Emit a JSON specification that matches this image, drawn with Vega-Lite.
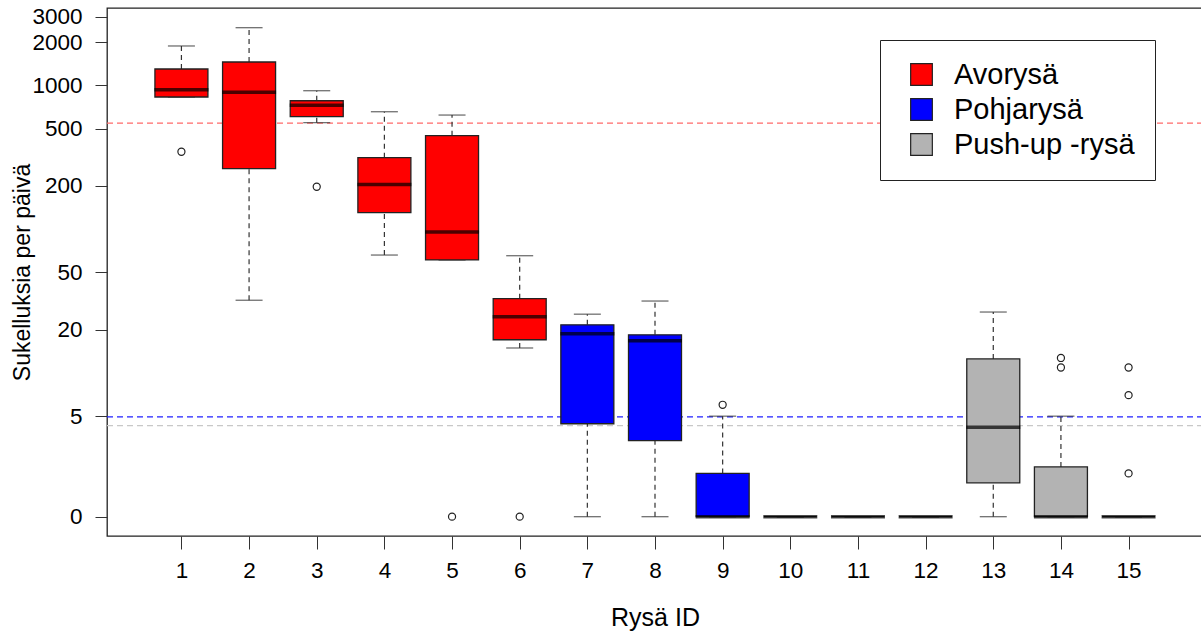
{
  "$schema": "https://vega.github.io/schema/vega-lite/v6.json",
  "autosize": {"type": "none"},
  "padding": {"left": 107, "top": 8, "right": 0, "bottom": 97},
  "width": 1096,
  "height": 528,
  "background": "white",
  "config": {
    "font": "Liberation Sans",
    "view": {"stroke": "#222222", "strokeWidth": 1.3},
    "axis": {"grid": false, "domain": false, "tickColor": "#333333", "labelColor": "#000000", "titleColor": "#000000", "labelFont": "Liberation Sans", "titleFont": "Liberation Sans", "titleFontWeight": "normal", "labelFontSize": 22.5, "titleFontSize": 23}
  },
  "datasets": {
    "boxes": [
      {"rysa": 1, "tyyppi": "Avorysä", "min": 829, "q1": 829, "median": 931, "q3": 1298, "max": 1877},
      {"rysa": 2, "tyyppi": "Avorysä", "min": 32, "q1": 263, "median": 894, "q3": 1452, "max": 2516},
      {"rysa": 3, "tyyppi": "Avorysä", "min": 550, "q1": 605, "median": 726, "q3": 781, "max": 917},
      {"rysa": 4, "tyyppi": "Avorysä", "min": 66, "q1": 130, "median": 204, "q3": 314, "max": 655},
      {"rysa": 5, "tyyppi": "Avorysä", "min": 61, "q1": 61, "median": 95.5, "q3": 446, "max": 621},
      {"rysa": 6, "tyyppi": "Avorysä", "min": 14.9, "q1": 17, "median": 24.6, "q3": 32.8, "max": 65.3},
      {"rysa": 7, "tyyppi": "Pohjarysä", "min": 1, "q1": 4.43, "median": 18.7, "q3": 21.6, "max": 25.6},
      {"rysa": 8, "tyyppi": "Pohjarysä", "min": 1, "q1": 3.38, "median": 16.7, "q3": 18.4, "max": 31.6},
      {"rysa": 9, "tyyppi": "Pohjarysä", "min": 1, "q1": 1, "median": 1, "q3": 2, "max": 5},
      {"rysa": 10, "tyyppi": "Pohjarysä", "min": 1, "q1": 1, "median": 1, "q3": 1, "max": 1},
      {"rysa": 11, "tyyppi": "Pohjarysä", "min": 1, "q1": 1, "median": 1, "q3": 1, "max": 1},
      {"rysa": 12, "tyyppi": "Pohjarysä", "min": 1, "q1": 1, "median": 1, "q3": 1, "max": 1},
      {"rysa": 13, "tyyppi": "Push-up -rysä", "min": 1, "q1": 1.72, "median": 4.19, "q3": 12.5, "max": 26.5},
      {"rysa": 14, "tyyppi": "Push-up -rysä", "min": 1, "q1": 1, "median": 1, "q3": 2.22, "max": 5},
      {"rysa": 15, "tyyppi": "Push-up -rysä", "min": 1, "q1": 1, "median": 1, "q3": 1, "max": 1}
    ],
    "outliers": [
      {"rysa": 1, "arvo": 345},
      {"rysa": 3, "arvo": 197},
      {"rysa": 5, "arvo": 1},
      {"rysa": 6, "arvo": 1},
      {"rysa": 9, "arvo": 6},
      {"rysa": 14, "arvo": 12.7},
      {"rysa": 14, "arvo": 10.9},
      {"rysa": 15, "arvo": 10.9},
      {"rysa": 15, "arvo": 7},
      {"rysa": 15, "arvo": 2}
    ],
    "refs": [
      {"tyyppi": "Avorysä", "taso": 545},
      {"tyyppi": "Pohjarysä", "taso": 4.95},
      {"tyyppi": "Push-up -rysä", "taso": 4.3}
    ]
  },
  "layer": [
    {
      "data": {"name": "refs"},
      "transform": [{"filter": "datum.tyyppi == 'Avorysä'"}],
      "mark": {"type": "rule", "strokeDash": [6, 4], "strokeWidth": 1.3, "color": "#ff6a6a"},
      "encoding": {
        "y": {"field": "taso", "type": "quantitative", "scale": {"type": "log", "domain": [0.734, 3448], "nice": false}}
      }
    },
    {
      "data": {"name": "refs"},
      "transform": [{"filter": "datum.tyyppi == 'Pohjarysä'"}],
      "mark": {"type": "rule", "strokeDash": [6, 4], "strokeWidth": 1.3, "color": "#2020ff"},
      "encoding": {
        "y": {"field": "taso", "type": "quantitative"}
      }
    },
    {
      "data": {"name": "refs"},
      "transform": [{"filter": "datum.tyyppi == 'Push-up -rysä'"}],
      "mark": {"type": "rule", "strokeDash": [6, 4], "strokeWidth": 1.3, "color": "#c8c8c8"},
      "encoding": {
        "y": {"field": "taso", "type": "quantitative"}
      }
    },
    {
      "data": {"name": "boxes"},
      "mark": {"type": "rule", "strokeDash": [5, 4], "color": "#333333", "strokeWidth": 1.2},
      "encoding": {
        "x": {"field": "rysa", "type": "quantitative"},
        "y": {"field": "q3", "type": "quantitative"},
        "y2": {"field": "max"}
      }
    },
    {
      "data": {"name": "boxes"},
      "mark": {"type": "rule", "strokeDash": [5, 4], "color": "#333333", "strokeWidth": 1.2},
      "encoding": {
        "x": {"field": "rysa", "type": "quantitative"},
        "y": {"field": "min", "type": "quantitative"},
        "y2": {"field": "q1"}
      }
    },
    {
      "data": {"name": "boxes"},
      "mark": {"type": "tick", "orient": "horizontal", "size": 27, "thickness": 1.3, "color": "#333333"},
      "encoding": {
        "x": {"field": "rysa", "type": "quantitative"},
        "y": {"field": "max", "type": "quantitative"}
      }
    },
    {
      "data": {"name": "boxes"},
      "mark": {"type": "tick", "orient": "horizontal", "size": 27, "thickness": 1.3, "color": "#333333"},
      "encoding": {
        "x": {"field": "rysa", "type": "quantitative"},
        "y": {"field": "min", "type": "quantitative"}
      }
    },
    {
      "data": {"name": "boxes"},
      "mark": {"type": "bar", "size": 53, "stroke": "#222222", "strokeWidth": 1.3},
      "encoding": {
        "x": {"field": "rysa", "type": "quantitative", "title": "Rysä ID",
              "scale": {"domain": [-0.1, 16.1], "nice": false, "zero": false, "padding": 0},
              "axis": {"values": [1,2,3,4,5,6,7,8,9,10,11,12,13,14,15], "format": "d", "tickSize": 13, "labelPadding": 10, "labelFlush": false, "titleFontSize": 25, "titleY": 89, "titleBaseline": "alphabetic"}},
        "y": {"field": "q1", "type": "quantitative", "title": "Sukelluksia per päivä",
              "scale": {"type": "log", "domain": [0.734, 3448], "nice": false, "padding": 0},
              "axis": {"values": [1, 5, 20, 50, 200, 500, 1000, 2000, 3000], "labelExpr": "datum.value == 1 ? '0' : format(datum.value, 'd')", "tickSize": 12, "labelPadding": 13, "titleX": -85, "titleY": 264, "titleAngle": 270, "titleAlign": "center", "titleBaseline": "middle"}},
        "y2": {"field": "q3"},
        "fill": {"field": "tyyppi", "type": "nominal", "title": null,
                 "scale": {"domain": ["Avorysä", "Pohjarysä", "Push-up -rysä"], "range": ["#ff0000", "#0000ff", "#b3b3b3"]},
                 "legend": {"orient": "none", "legendX": 773, "legendY": 32, "direction": "vertical", "padding": 20, "strokeColor": "#222222", "fillColor": "white", "symbolType": "square", "symbolSize": 470, "symbolOffset": 7, "symbolStrokeColor": "#222222", "symbolStrokeWidth": 1.2, "labelFontSize": 29, "labelFont": "Liberation Sans", "labelColor": "#000000", "labelOffset": 18, "rowPadding": 5, "labelLimit": 400, "labelExpr": "datum.label + '\u00a0\u00a0'"}}
      }
    },
    {
      "data": {"name": "boxes"},
      "mark": {"type": "tick", "orient": "horizontal", "size": 54, "thickness": 3.5, "color": "#000000"},
      "encoding": {
        "x": {"field": "rysa", "type": "quantitative"},
        "y": {"field": "median", "type": "quantitative"}
      }
    },
    {
      "data": {"name": "outliers"},
      "mark": {"type": "point", "shape": "circle", "filled": false, "size": 50, "stroke": "#222222", "strokeWidth": 1.2, "opacity": 1},
      "encoding": {
        "x": {"field": "rysa", "type": "quantitative"},
        "y": {"field": "arvo", "type": "quantitative"}
      }
    }
  ]
}
